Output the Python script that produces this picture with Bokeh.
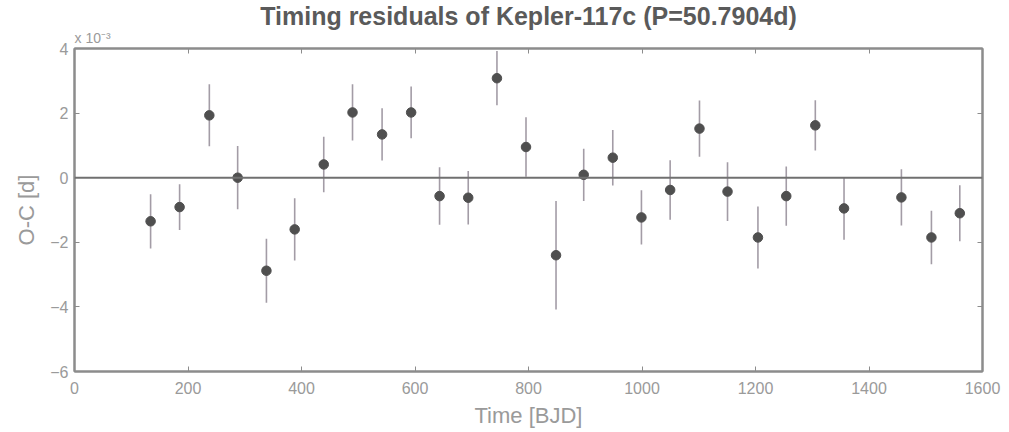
from bokeh.plotting import figure
from bokeh.models import ColumnDataSource, FixedTicker, LinearAxis, Span, Range1d, CustomJSTickFormatter, Title
from bokeh.embed import file_html
from bokeh.resources import INLINE

# Transit times [BJD offset] and O-C residuals in units of 1e-3 d
time_bjd = [134.1, 185.2, 237.6, 287.5, 338.2, 388.0, 439.2, 489.9, 542.0, 593.2,
            643.3, 693.8, 744.4, 795.6, 848.5, 897.3, 948.5, 999.0, 1049.6, 1101.3,
            1150.7, 1204.3, 1254.2, 1305.4, 1356.0, 1457.1, 1510.0, 1560.0]
oc_1e3 = [-1.35, -0.91, 1.93, 0.00, -2.88, -1.60, 0.41, 2.02, 1.34, 2.02,
          -0.57, -0.62, 3.08, 0.95, -2.40, 0.09, 0.62, -1.23, -0.38, 1.52,
          -0.43, -1.85, -0.57, 1.62, -0.95, -0.61, -1.85, -1.10]
err_1e3 = [0.84, 0.71, 0.96, 0.98, 0.99, 0.96, 0.86, 0.87, 0.81, 0.80,
           0.89, 0.83, 0.84, 0.92, 1.68, 0.81, 0.86, 0.84, 0.92, 0.87,
           0.91, 0.96, 0.92, 0.78, 0.97, 0.87, 0.83, 0.87]
x_ticks = [0, 200, 400, 600, 800, 1000, 1200, 1400, 1600]
y_ticks = [-6, -4, -2, 0, 2, 4]

src = ColumnDataSource(dict(
    t=time_bjd, v=oc_1e3,
    lo=[v - e for v, e in zip(oc_1e3, err_1e3)],
    hi=[v + e for v, e in zip(oc_1e3, err_1e3)],
))

FONT = "Liberation Sans"
AX = "#8c8c8c"
TXT = "#9a9a9a"

p = figure(width=1009, height=432, output_backend="svg", toolbar_location=None,
           x_range=Range1d(0, 1600), y_range=Range1d(-6, 4),
           min_border_left=74, min_border_right=27, min_border_top=48, min_border_bottom=61,
           title="Timing residuals of Kepler-117c (P=50.7904d)")
p.title.align = "center"
p.title.text_font = FONT
p.title.text_font_size = "25px"
p.title.text_font_style = "bold"
p.title.text_color = "#5a5a5a"
p.title.standoff = -11
p.xgrid.visible = False
p.ygrid.visible = False
p.outline_line_color = AX
p.outline_line_width = 2
p.background_fill_color = "white"
p.border_fill_color = "white"

def style(ax):
    ax.axis_line_color = AX
    ax.axis_line_width = 2
    ax.major_tick_line_color = AX
    ax.major_tick_line_width = 1
    ax.major_tick_in = 5
    ax.major_tick_out = 0
    ax.minor_tick_line_color = None
    ax.major_label_text_font = FONT
    ax.major_label_text_font_size = "16px"
    ax.major_label_text_color = TXT
    ax.axis_label_text_font = FONT
    ax.axis_label_text_font_size = "22px"
    ax.axis_label_text_font_style = "normal"
    ax.axis_label_text_color = TXT

xa = p.xaxis[0]
ya = p.yaxis[0]
xa.ticker = FixedTicker(ticks=x_ticks)
ya.ticker = FixedTicker(ticks=y_ticks)
style(xa)
style(ya)
xa.axis_label = "Time [BJD]"
ya.axis_label = "O-C [d]"
xa.major_label_standoff = 10
xa.axis_label_standoff = 6
ya.major_label_standoff = 6
ya.axis_label_standoff = 8
ya.major_label_orientation = "horizontal"

blank = CustomJSTickFormatter(code="return '';")
top = LinearAxis(ticker=FixedTicker(ticks=x_ticks), formatter=blank)
right = LinearAxis(ticker=FixedTicker(ticks=y_ticks), formatter=blank)
for ax in (top, right):
    style(ax)
    ax.major_label_text_font_size = "1px"
    ax.major_label_standoff = 0
p.add_layout(top, "above")
p.add_layout(right, "right")

# exponent note of the y axis, sitting just above the top-left corner of the frame
p.add_layout(Title(text="x 10\u207b\u00b3", align="left", text_font=FONT, text_font_size="14px",
                   text_font_style="normal", text_color=TXT, standoff=6), "above")

p.add_layout(Span(location=0, dimension="width", line_color="#707070", line_width=2))

p.segment(x0="t", y0="lo", x1="t", y1="hi", source=src, line_color="#a39ca6", line_width=1.6)
p.scatter(x="t", y="v", source=src, size=9.5, fill_color="#4f4f4f", line_color="#4f4f4f")

open("out.html", "w").write(file_html(p, INLINE))
